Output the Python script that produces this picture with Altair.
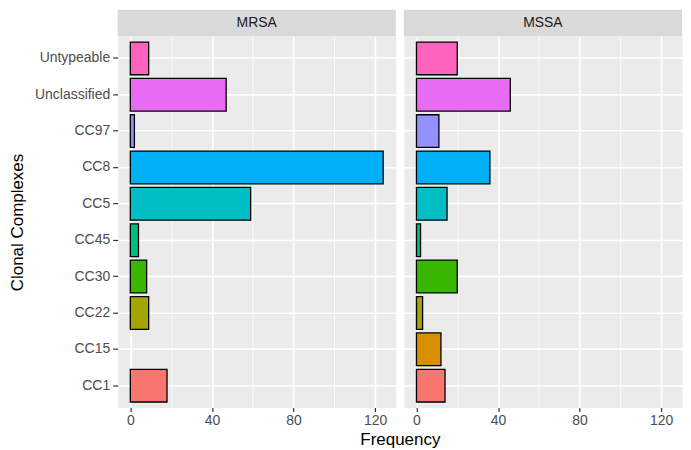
import altair as alt
import pandas as pd

categories = ["CC1", "CC15", "CC22", "CC30", "CC45", "CC5", "CC8", "CC97",
              "Unclassified", "Untypeable"]
groups = ["MRSA", "MSSA"]
mrsa_counts = [18, 0, 9, 8, 4, 59, 124, 2, 47, 9]
mssa_counts = [14, 12, 3, 20, 2, 15, 36, 11, 46, 20]
palette = ["#F8766D", "#D89000", "#A3A500", "#39B600", "#00BF7D",
           "#00BFC4", "#00B0F6", "#9590FF", "#E76BF3", "#FF62BC"]
x_ticks = [0, 20, 40, 60, 80, 100, 120]

FONT = "Liberation Sans"
PW, PH, SH = 279, 372, 27

order_top_down = categories[::-1]
x_max = max(mrsa_counts + mssa_counts)
pad = 0.05 * x_max
x_domain = [-pad, x_max + pad]

major = "datum.value % 40 === 0"


def panel(group, counts, first):
    df = pd.DataFrame({"cc": categories, "n": counts})
    xaxis = alt.Axis(
        values=x_ticks, grid=True, gridColor="white",
        gridWidth={"condition": {"test": major, "value": 1.6}, "value": 0.8},
        tickOpacity={"condition": {"test": major, "value": 1}, "value": 0},
        labelExpr="datum.value % 40 === 0 ? datum.label : ''",
        domain=False, tickColor="#333333", tickSize=4, tickWidth=1.2,
        labelColor="#4D4D4D", labelFontSize=14, labelPadding=2,
        labelFont=FONT,
        title="Frequency" if first else None,
        titleFont=FONT, titleFontSize=17, titleFontWeight="normal",
        titleColor="black", titleX=283, titlePadding=4,
    )
    if first:
        yaxis = alt.Axis(
            title="Clonal Complexes", titleFont=FONT, titleFontSize=17,
            titleFontWeight="normal", titleColor="black", titlePadding=8,
            labelColor="#4D4D4D", labelFontSize=14, labelFont=FONT,
            tickColor="#333333", tickSize=5, tickWidth=1.2, labelPadding=3,
            domain=False, grid=True, gridColor="white", gridWidth=1.6,
            bandPosition=0.5,
        )
    else:
        yaxis = alt.Axis(
            title=None, labels=False, ticks=False, domain=False, grid=True,
            gridColor="white", gridWidth=1.6, bandPosition=0.5,
        )
    bars = alt.Chart(df).transform_filter("datum.n > 0").mark_bar(
        stroke="black", strokeWidth=1.3
    ).encode(
        x=alt.X("n:Q", scale=alt.Scale(domain=x_domain, nice=False, zero=False),
                axis=xaxis),
        y=alt.Y("cc:N", scale=alt.Scale(domain=order_top_down,
                                        paddingInner=0.1, paddingOuter=0.15),
                axis=yaxis),
        color=alt.Color("cc:N", scale=alt.Scale(domain=categories, range=palette),
                        legend=None),
    )
    sdf = pd.DataFrame({"g": [group]})
    strip = alt.Chart(sdf).mark_rect(color="#D9D9D9").encode(
        x=alt.value(0), x2=alt.value(PW), y=alt.value(-SH), y2=alt.value(0)
    )
    label = alt.Chart(sdf).mark_text(
        font=FONT, fontSize=14, color="#1A1A1A", baseline="middle", align="center"
    ).encode(text="g:N", x=alt.value(PW / 2), y=alt.value(-SH / 2))
    return alt.layer(bars, strip, label).properties(width=PW, height=PH)


p1 = panel(groups[0], mrsa_counts, True)
p2 = panel(groups[1], mssa_counts, False)

chart = alt.hconcat(p1, p2, spacing=8, bounds="flush").properties(
    padding={"left": 0, "top": 0, "right": 0, "bottom": 0}
).configure(
    background="white", font=FONT
).configure_view(fill="#EBEBEB", stroke="transparent")

chart.save("out.html", embed_options={"renderer": "svg", "actions": False})
